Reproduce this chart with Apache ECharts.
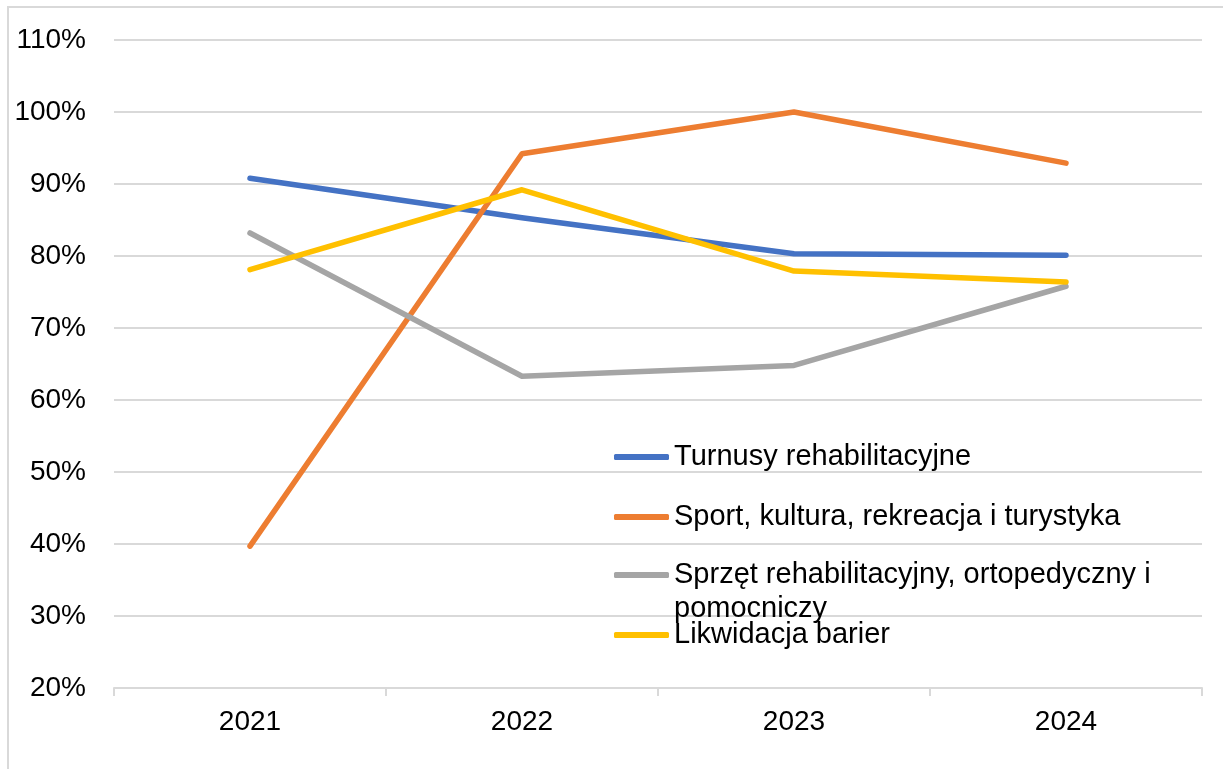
<!DOCTYPE html>
<html>
<head>
<meta charset="utf-8">
<script src="https://cdn.jsdelivr.net/npm/echarts@6/dist/echarts.min.js"></script>
<style>
html,body{margin:0;padding:0;background:#fff;}
#chart{width:1223px;height:769px;}
</style>
</head>
<body>
<div id="chart"></div>
<script>
const categories = ['2021', '2022', '2023', '2024'];
const seriesNames = [
  'Turnusy rehabilitacyjne',
  'Sport, kultura, rekreacja i turystyka',
  'Sprzęt rehabilitacyjny, ortopedyczny i pomocniczy',
  'Likwidacja barier'
];
const turnusy = [90.8, 85.3, 80.3, 80.1];
const sport = [39.7, 94.2, 100.0, 92.9];
const sprzet = [83.2, 63.3, 64.8, 75.8];
const likwidacja = [78.1, 89.2, 77.9, 76.4];
const yTicks = { min: 20, max: 110, interval: 10 };
const colors = ['#4472C4', '#ED7D31', '#A5A5A5', '#FFC000'];

const FONT = 'Liberation Sans, Arial, sans-serif';
const FS = 28;
const LFS = 29;
const chart = echarts.init(document.getElementById('chart'));

const legendCenters = [457, 517, 575, 635];
const legendLabels = [seriesNames[0], seriesNames[1], 'Sprzęt rehabilitacyjny, ortopedyczny i', seriesNames[3]];
const legends = seriesNames.map((n, i) => ({
  data: [n],
  orient: 'vertical',
  left: 614,
  top: legendCenters[i] - 16,
  padding: 0,
  icon: 'roundRect',
  itemWidth: 55,
  itemHeight: 6,
  itemGap: 10,
  selectedMode: false,
  formatter: () => legendLabels[i],
  textStyle: { fontFamily: FONT, fontSize: LFS, color: '#000', lineHeight: 32 }
}));

const dataSets = [turnusy, sport, sprzet, likwidacja];

chart.setOption({
  animation: false,
  color: colors,
  grid: { left: 114, right: 21, top: 40, bottom: 81, containLabel: false },
  legend: legends,
  graphic: [
    { type: 'rect', shape: { x: 8, y: 7, width: 1300, height: 900 }, style: { fill: 'none', stroke: '#d9d9d9', lineWidth: 2 }, silent: true },
    { type: 'text', left: 674, top: 609 - 16, style: { text: 'pomocniczy', fontFamily: FONT, fontSize: LFS, fill: '#000', lineHeight: 32 }, z: 10 }
  ],
  xAxis: {
    type: 'category',
    data: categories,
    boundaryGap: true,
    axisLine: { lineStyle: { color: '#d9d9d9', width: 2 } },
    axisTick: { show: true, length: 8, lineStyle: { color: '#d9d9d9', width: 2 } },
    axisLabel: { fontFamily: FONT, fontSize: FS, color: '#000', margin: 20 },
    splitLine: { show: false }
  },
  yAxis: {
    type: 'value',
    min: yTicks.min,
    max: yTicks.max,
    interval: yTicks.interval,
    axisLine: { show: false },
    axisTick: { show: false },
    axisLabel: { fontFamily: FONT, fontSize: FS, color: '#000', margin: 28, formatter: v => v + '%' },
    splitLine: { lineStyle: { color: '#d9d9d9', width: 2 } }
  },
  series: seriesNames.map((n, i) => ({
    name: n,
    type: 'line',
    data: dataSets[i],
    symbol: 'none',
    lineStyle: { width: 5.5, color: colors[i], cap: 'round', join: 'round' },
    itemStyle: { color: colors[i] }
  }))
});
</script>
</body>
</html>
